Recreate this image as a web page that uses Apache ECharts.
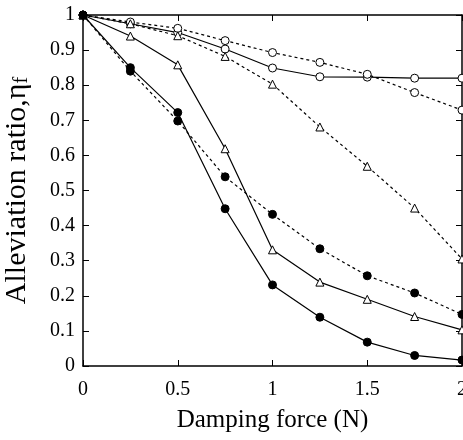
<!DOCTYPE html>
<html>
<head>
<meta charset="utf-8">
<script src="https://cdn.jsdelivr.net/npm/echarts@6/dist/echarts.min.js"></script>
<style>
  html, body { margin: 0; padding: 0; background: #fff; }
  #chart { width: 463px; height: 440px; }
</style>
</head>
<body>
<div id="chart"></div>
<script>
// damping force (N)
const forces = [0, 0.25, 0.5, 0.75, 1, 1.25, 1.5, 1.75, 2];
// alleviation ratio, six cases
const openCircleSolid = [1, 0.975, 0.95, 0.903, 0.849, 0.824, 0.823, 0.82, 0.82];
const openCircleDashed = [1, 0.98, 0.962, 0.927, 0.893, 0.865, 0.831, 0.779, 0.729];
const triangleSolid = [1, 0.94, 0.858, 0.619, 0.331, 0.239, 0.19, 0.141, 0.103];
const triangleDashed = [1, 0.975, 0.941, 0.882, 0.803, 0.681, 0.569, 0.45, 0.305];
const dotSolid = [1, 0.85, 0.722, 0.448, 0.231, 0.139, 0.068, 0.03, 0.017];
const dotDashed = [1, 0.84, 0.698, 0.539, 0.432, 0.334, 0.257, 0.208, 0.147];

const serif = 'Liberation Serif';

function pairs(vals) {
  return forces.map((x, i) => [x, vals[i]]);
}

// 构造一条曲线
function makeSeries(vals, symbol, filled, dashed) {
  return {
    type: 'line',
    data: pairs(vals),
    symbol: symbol,
    symbolSize: 8,
    showSymbol: true,
    clip: false,
    lineStyle: {
      color: '#000',
      width: 1.2,
      type: dashed ? [3, 3] : 'solid'
    },
    itemStyle: {
      color: filled ? '#000' : '#fff',
      borderColor: '#000',
      borderWidth: 1
    },
    emphasis: { disabled: true },
    z: filled ? 3 : 2
  };
}

const chart = echarts.init(document.getElementById('chart'));
chart.setOption({
  animation: false,
  grid: {
    left: 83,
    right: 1,
    top: 15,
    bottom: 74,
    outerBoundsMode: 'none'
  },
  xAxis: [{
    type: 'value',
    min: 0,
    max: 2,
    interval: 0.5,
    name: 'Damping force (N)',
    nameLocation: 'middle',
    nameGap: 42,
    nameTextStyle: {
      fontFamily: serif,
      fontSize: 25,
      color: '#000'
    },
    axisLine: { show: true, onZero: false, lineStyle: { color: '#000', width: 1.5 } },
    axisTick: { show: true, inside: true, length: 6, lineStyle: { color: '#000' } },
    axisLabel: {
      margin: 14,
      fontFamily: serif,
      fontSize: 20,
      color: '#000'
    },
    splitLine: { show: false }
  }, {
    type: 'value',
    position: 'top',
    min: 0,
    max: 2,
    interval: 0.5,
    axisLine: { show: true, onZero: false, lineStyle: { color: '#000', width: 1.5 } },
    axisTick: { show: true, inside: true, length: 6, lineStyle: { color: '#000' } },
    axisLabel: { show: false },
    splitLine: { show: false }
  }],
  yAxis: [{
    type: 'value',
    min: 0,
    max: 1,
    interval: 0.1,
    name: '{m|Alleviation ratio,η}{s|f}',
    nameLocation: 'middle',
    nameGap: 39,
    nameTextStyle: {
      color: '#000',
      rich: {
        m: { fontFamily: serif, fontSize: 30, lineHeight: 30, verticalAlign: 'top', padding: [0, 0, 7, 0], color: '#000' },
        s: { fontFamily: serif, fontSize: 20, lineHeight: 20, verticalAlign: 'bottom', color: '#000' }
      }
    },
    axisLine: { show: true, onZero: false, lineStyle: { color: '#000', width: 1.5 } },
    axisTick: { show: true, inside: true, length: 6, lineStyle: { color: '#000' } },
    axisLabel: {
      margin: 8,
      fontFamily: serif,
      fontSize: 20,
      color: '#000'
    },
    splitLine: { show: false }
  }, {
    type: 'value',
    position: 'right',
    min: 0,
    max: 1,
    interval: 0.1,
    axisLine: { show: true, onZero: false, lineStyle: { color: '#000', width: 1.5 } },
    axisTick: { show: true, inside: true, length: 6, lineStyle: { color: '#000' } },
    axisLabel: { show: false },
    splitLine: { show: false }
  }],
  series: [
    makeSeries(openCircleSolid, 'circle', false, false),
    makeSeries(openCircleDashed, 'circle', false, true),
    makeSeries(triangleSolid, 'triangle', false, false),
    makeSeries(triangleDashed, 'triangle', false, true),
    makeSeries(dotSolid, 'circle', true, false),
    makeSeries(dotDashed, 'circle', true, true)
  ]
});
</script>
</body>
</html>
